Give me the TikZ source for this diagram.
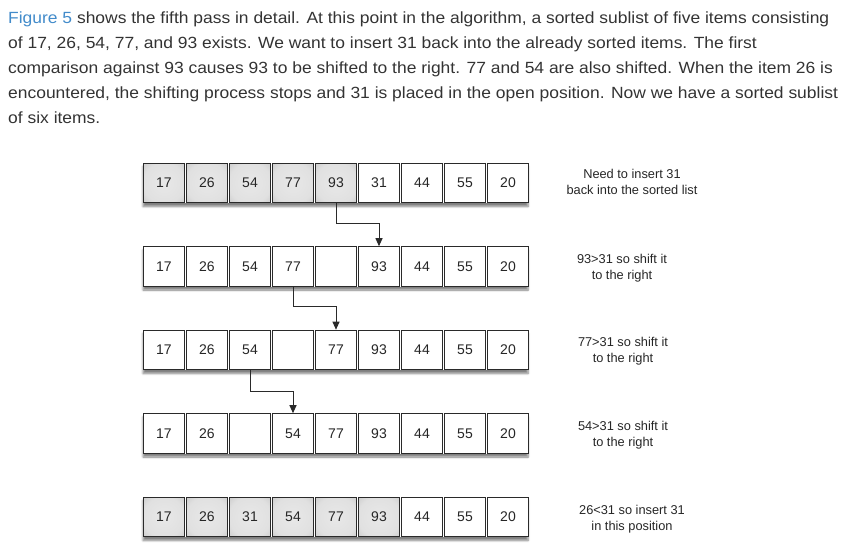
\documentclass[tikz,border=0pt]{standalone}
\usepackage{fontspec}
\setmainfont{Liberation Sans}
\newfontfamily\parafont[FakeStretch=1.077]{Liberation Sans}
\usetikzlibrary{arrows.meta,shadows.blur}

\definecolor{textgray}{HTML}{333333}
\definecolor{linkblue}{HTML}{428BCA}
\definecolor{edgegray}{HTML}{2A2A2A}

\pgfdeclareradialshading{cellglow}{\pgfpoint{0bp}{0bp}}{color(0bp)=(black!9); color(26bp)=(black!12); color(50bp)=(black!30)}

\tikzset{
	para/.style={anchor=base west, inner sep=0pt, text=textgray, font=\parafont\fontsize{16.2}{25}\selectfont},
	cell/.style={draw=edgegray, line width=1.1pt, fill=white, minimum width=40.5pt, minimum height=39.5pt, inner sep=0pt, text=black!85, font=\fontsize{14}{16}\selectfont},
	sorted/.style={cell, shade, shading=cellglow},
	rowshadow/.style={fill=white, blur shadow={shadow xshift=0pt, shadow yshift=-3.5pt, shadow blur steps=6, shadow opacity=50}},
	note/.style={align=center, inner sep=0pt, text=black!85, font=\fontsize{12.8}{16.5}\selectfont},
	shiftarrow/.style={draw=edgegray, line width=1pt, -{Triangle[length=8pt,width=7pt]}}
}

\begin{document}
\begin{tikzpicture}[x=1pt, y=-1pt]
	\useasboundingbox (0, 0) rectangle (849, 554);
	
	% text above the figure
	\node[para] (l1) at (8, 23.5) {\textcolor{linkblue}{Figure 5} shows the fifth pass in detail. At this point in the algorithm, a sorted sublist of five items consisting};
	\node[para] (l2) at (8, 48.5) {of 17, 26, 54, 77, and 93 exists. We want to insert 31 back into the already sorted items. The first};
	\node[para] (l3) at (8, 73.5) {comparison against 93 causes 93 to be shifted to the right. 77 and 54 are also shifted. When the item 26 is};
	\node[para] (l4) at (8, 98.5) {encountered, the shifting process stops and 31 is placed in the open position. Now we have a sorted sublist};
	\node[para] (l5) at (8, 123.5) {of six items.};
	
	% shadows under the rows
	\path[rowshadow] (143, 163) rectangle (528, 203);
	\path[rowshadow] (143, 246.5) rectangle (528, 286.5);
	\path[rowshadow] (143, 330) rectangle (528, 370);
	\path[rowshadow] (143, 413.5) rectangle (528, 453.5);
	\path[rowshadow] (143, 497) rectangle (528, 537);
	
	% row 1
	\node[sorted] (c11) at (164, 183) {17};
	\node[sorted] (c12) at (207, 183) {26};
	\node[sorted] (c13) at (250, 183) {54};
	\node[sorted] (c14) at (293, 183) {77};
	\node[sorted] (c15) at (336, 183) {93};
	\node[cell] (c16) at (379, 183) {31};
	\node[cell] (c17) at (422, 183) {44};
	\node[cell] (c18) at (465, 183) {55};
	\node[cell] (c19) at (508, 183) {20};
	
	% row 2
	\node[cell] (c21) at (164, 266.5) {17};
	\node[cell] (c22) at (207, 266.5) {26};
	\node[cell] (c23) at (250, 266.5) {54};
	\node[cell] (c24) at (293, 266.5) {77};
	\node[cell] (c25) at (336, 266.5) {};
	\node[cell] (c26) at (379, 266.5) {93};
	\node[cell] (c27) at (422, 266.5) {44};
	\node[cell] (c28) at (465, 266.5) {55};
	\node[cell] (c29) at (508, 266.5) {20};
	
	% row 3
	\node[cell] (c31) at (164, 350) {17};
	\node[cell] (c32) at (207, 350) {26};
	\node[cell] (c33) at (250, 350) {54};
	\node[cell] (c34) at (293, 350) {};
	\node[cell] (c35) at (336, 350) {77};
	\node[cell] (c36) at (379, 350) {93};
	\node[cell] (c37) at (422, 350) {44};
	\node[cell] (c38) at (465, 350) {55};
	\node[cell] (c39) at (508, 350) {20};
	
	% row 4
	\node[cell] (c41) at (164, 433.5) {17};
	\node[cell] (c42) at (207, 433.5) {26};
	\node[cell] (c43) at (250, 433.5) {};
	\node[cell] (c44) at (293, 433.5) {54};
	\node[cell] (c45) at (336, 433.5) {77};
	\node[cell] (c46) at (379, 433.5) {93};
	\node[cell] (c47) at (422, 433.5) {44};
	\node[cell] (c48) at (465, 433.5) {55};
	\node[cell] (c49) at (508, 433.5) {20};
	
	% row 5
	\node[sorted] (c51) at (164, 517) {17};
	\node[sorted] (c52) at (207, 517) {26};
	\node[sorted] (c53) at (250, 517) {31};
	\node[sorted] (c54) at (293, 517) {54};
	\node[sorted] (c55) at (336, 517) {77};
	\node[sorted] (c56) at (379, 517) {93};
	\node[cell] (c57) at (422, 517) {44};
	\node[cell] (c58) at (465, 517) {55};
	\node[cell] (c59) at (508, 517) {20};
	
	% notes
	\node[note] (n1) at (632, 182) {Need to insert 31\\back into the sorted list};
	\node[note] (n2) at (622, 268) {93>31 so shift it\\to the right};
	\node[note] (n3) at (623, 351) {77>31 so shift it\\to the right};
	\node[note] (n4) at (623, 435) {54>31 so shift it\\to the right};
	\node[note] (n5) at (632, 519) {26<31 so insert 31\\in this position};
	
	\draw[shiftarrow] (c15.south) -- ++(0, 20.5) -| (c26.north);
	\draw[shiftarrow] (c24.south) -- ++(0, 20) -| (c35.north);
	\draw[shiftarrow] (c33.south) -- ++(0, 21) -| (c44.north);
\end{tikzpicture}
\end{document}
